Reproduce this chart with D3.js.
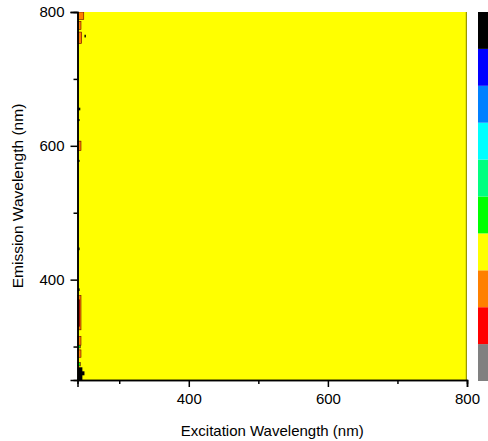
<!DOCTYPE html>
<html>
<head>
<meta charset="utf-8">
<script src="https://cdn.jsdelivr.net/npm/d3@7"></script>
<style>
body { margin: 0; background: #fff; }
svg { display: block; }
text { font-family: "Liberation Sans", Arial, sans-serif; fill: #000; }
</style>
</head>
<body>
<svg id="chart" width="488" height="441"></svg>
<script>
// contour levels, lowest (grey) to highest (black)
var levelColors = ["#808080", "#ff0000", "#ff8000", "#ffff00", "#00ff00",
                   "#00ff80", "#00ffff", "#0080ff", "#0000ff", "#000000"];
var baseLevel = 3; // almost the whole map sits in the yellow band

var exDomain = [240, 800];
var emDomain = [250, 800];
var majorTicks = [400, 600, 800];
var minorTicks = [300, 500, 700];

// small patches along the left edge: [ex0, ex1, em0, em1, level]
var patches = [
  [240, 249, 789, 800, 2],
  [240, 245, 774, 786, 2],
  [240, 246, 753, 770, 2],
  [250, 252, 762, 766, 9],
  [240, 244, 653, 657, 9],
  [240, 243, 637, 640, 9],
  [240, 245, 593, 607, 2],
  [240, 243, 576, 579, 9],
  [240, 243, 444, 448, 9],
  [240, 243, 383, 387, 9],
  [240, 245, 325, 376, 2],
  [240, 243, 330, 370, 1],
  [240, 245, 302, 315, 2],
  [240, 244, 298, 302, 4],
  [240, 245, 284, 295, 2],
  [240, 244, 271, 276, 4],
  [240, 247, 250, 269, 9],
  [246, 250, 257, 263, 9]
];

var svg = d3.select("#chart"),
    pLeft = 77.5, pRight = 467, pTop = 12, pBottom = 380;

var x = d3.scaleLinear().domain(exDomain).range([pLeft, pRight]);
var y = d3.scaleLinear().domain(emDomain).range([pBottom, pTop]);

svg.append("clipPath").attr("id", "plotclip")
  .append("rect")
  .attr("x", pLeft).attr("y", pTop)
  .attr("width", pRight - pLeft).attr("height", pBottom - pTop);

var plot = svg.append("g").attr("clip-path", "url(#plotclip)");

// base band
plot.append("rect")
  .attr("x", x(exDomain[0])).attr("y", y(emDomain[1]))
  .attr("width", x(exDomain[1]) - x(exDomain[0]))
  .attr("height", y(emDomain[0]) - y(emDomain[1]))
  .attr("fill", levelColors[baseLevel]);

plot.selectAll("rect.patch")
  .data(patches)
  .enter().append("rect")
  .attr("class", "patch")
  .attr("x", function(d) { return x(d[0]); })
  .attr("y", function(d) { return y(d[3]); })
  .attr("width", function(d) { return x(d[1]) - x(d[0]); })
  .attr("height", function(d) { return y(d[2]) - y(d[3]); })
  .attr("fill", function(d) { return levelColors[d[4]]; })
  .attr("stroke", function(d) { return d[4] == 9 ? "none" : "#600"; })
  .attr("stroke-width", 0.6);

// edge line of the contour on the right
plot.append("line")
  .attr("x1", x(800) - 0.5).attr("x2", x(800) - 0.5)
  .attr("y1", y(emDomain[1])).attr("y2", y(emDomain[0]))
  .attr("stroke", "#9a9a00").attr("stroke-width", 1.5);

// axes
svg.append("g").attr("transform", "translate(0," + pBottom + ")")
  .call(d3.axisBottom(x).tickValues(majorTicks).tickSize(7).tickPadding(6).tickFormat(d3.format("d")));
svg.append("g").attr("transform", "translate(0," + pBottom + ")")
  .call(d3.axisBottom(x).tickValues(minorTicks).tickSize(4).tickFormat(""));

svg.append("g").attr("transform", "translate(" + pLeft + ",0)")
  .call(d3.axisLeft(y).tickValues(majorTicks).tickSize(7).tickPadding(6).tickFormat(d3.format("d")));
svg.append("g").attr("transform", "translate(" + pLeft + ",0)")
  .call(d3.axisLeft(y).tickValues(minorTicks).tickSize(4).tickFormat(""));

svg.selectAll(".domain").attr("stroke", "#000").attr("stroke-width", 1.5);
svg.selectAll(".tick line").attr("stroke", "#000").attr("stroke-width", 1.5);
svg.selectAll(".tick text").attr("font-size", 15).attr("font-family", "Liberation Sans, Arial, sans-serif");

// titles
svg.append("text")
  .attr("x", (pLeft + pRight) / 2).attr("y", 436)
  .attr("text-anchor", "middle").attr("font-size", 15)
  .text("Excitation Wavelength (nm)");

svg.append("text")
  .attr("transform", "translate(23," + (pTop + pBottom) / 2 + ") rotate(-90)")
  .attr("text-anchor", "middle").attr("font-size", 15.5)
  .text("Emission Wavelength (nm)");

// colour bar
var band = d3.scaleBand()
  .domain(d3.range(levelColors.length))
  .range([381, 12]);

svg.selectAll("rect.cbar")
  .data(levelColors)
  .enter().append("rect")
  .attr("class", "cbar")
  .attr("x", 478).attr("width", 12)
  .attr("y", function(d, i) { return band(i); })
  .attr("height", band.bandwidth())
  .attr("fill", function(d) { return d; });
</script>
</body>
</html>
